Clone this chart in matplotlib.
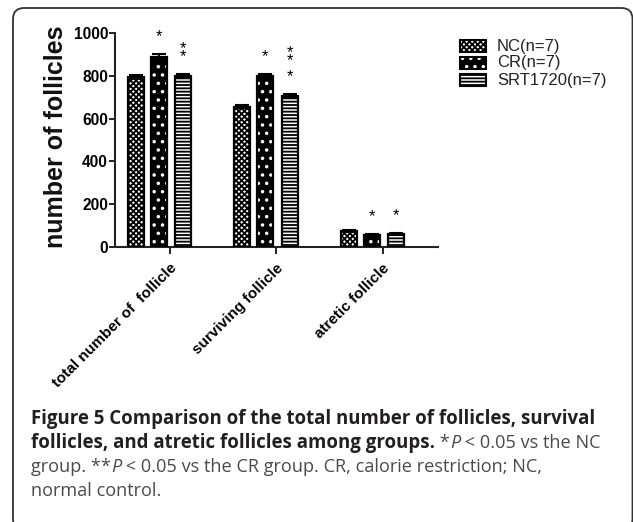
import numpy as np
import matplotlib
matplotlib.use("Agg")
import matplotlib.pyplot as plt
from matplotlib.patches import FancyBboxPatch, Rectangle

# data
categories = ["total number of  follicle", "surviving follicle", "atretic follicle"]
groups = ["NC(n=7)", "CR(n=7)", "SRT1720(n=7)"]
nc = [795, 655, 75]
cr = [890, 800, 55]
srt = [800, 705, 60]
nc_err = [8, 7, 5]
cr_err = [10, 10, 4]
srt_err = [8, 8, 4]
# significance marks (group index, series index, mark); "**" is printed stacked
stars = [(0, 1, "*"), (0, 2, "**"), (1, 1, "*"), (1, 2, "** *"),
         (2, 1, "*"), (2, 2, "*")]

W, H = 633, 522
plt.rcParams.update({"font.family": ["Liberation Sans", "DejaVu Sans"],
                     "hatch.linewidth": 1.3})
fig = plt.figure(figsize=(W / 100, H / 100), dpi=100)

def fx(px):
    return px / W

def fy(py):
    return 1 - py / H

# panel border (rounded, runs off the right/bottom edge), in pixels
box = FancyBboxPatch((13, H - 530), 619.5, 522, boxstyle="round,pad=0,rounding_size=11",
                     transform=None, fill=False, ec="#333333", lw=1.3)
fig.patches.append(box)

ax = fig.add_axes([fx(115), fy(247), fx(438 - 115), (247 - 33) / H])
x = np.arange(len(categories))
offs = [-0.216, 0.0, 0.228]
bw = 0.15
series = [nc, cr, srt]
errs = [nc_err, cr_err, srt_err]
styles = [dict(fc="white", hc="black", hatch="xxxxxx"),
          dict(fc="black", hc="white", hatch=".."),
          dict(fc="white", hc="black", hatch="-----")]

for vals, err, off, st in zip(series, errs, offs, styles):
    ax.bar(x + off, vals, bw, color=st["fc"], edgecolor=st["hc"], hatch=st["hatch"],
           linewidth=0, zorder=2)
    ax.bar(x + off, vals, bw, fill=False, edgecolor="black", linewidth=1.6, zorder=3)
    ax.errorbar(x + off, vals, yerr=err, fmt="none", ecolor="black", elinewidth=1.5,
                capsize=5, capthick=1.5, zorder=4)

# one text per bar; each star on its own line, a blank line between "**" and "*"
for gi, si, mark in stars:
    top = series[si][gi] + errs[si][gi]
    txt = "\n".join("" if c == " " else c for c in mark)
    ax.annotate(txt, (x[gi] + offs[si], top + 46), ha="center", va="bottom",
                fontsize=12, linespacing=0.42, annotation_clip=False)

ax.set_ylim(0, 1000)
ax.set_xlim(-0.413, 2.62)
ax.set_yticks([0, 200, 400, 600, 800, 1000])
ax.set_xticks(x + 0.1)
ax.set_xticklabels(categories, rotation=45, ha="right", va="top",
                   rotation_mode="anchor", fontweight="bold", fontsize=11)
for lab in ax.get_yticklabels():
    lab.set_fontweight("bold")
    lab.set_fontsize(11.2)
ax.tick_params(axis="both", length=4, width=1.4, pad=1, color="#222222")
ax.tick_params(axis="x", length=5, pad=5)
for sp in ["top", "right"]:
    ax.spines[sp].set_visible(False)
for sp in ["left", "bottom"]:
    ax.spines[sp].set_linewidth(1.5)
    ax.spines[sp].set_color("#222222")
ax.set_facecolor("none")

fig.text(fx(56), fy(136.5), "number of follicles", rotation=90, ha="center",
         va="center", fontsize=18, fontweight="bold", color="#111111")

# legend drawn by hand next to the axes
leg_y = [46, 63, 80]
for name, st, ly in zip(groups, styles, leg_y):
    for kw in (dict(fc=st["fc"], ec=st["hc"], hatch=st["hatch"], lw=0),
               dict(fill=False, ec="black", lw=1.5)):
        fig.patches.append(Rectangle((fx(460), fy(ly + 6)), fx(26), 12 / H,
                                     transform=fig.transFigure, **kw))
    fig.text(fx(497), fy(ly), name, ha="left", va="center", fontsize=12, color="#222222")

# caption, built from text pieces placed one after another
BOLD = dict(family="Open Sans", fontweight="bold", color="#231f20", fontsize=13.4)
REG = dict(family="Open Sans", color="#4a4a4a", fontsize=13.1)
ITA = dict(family="Open Sans", style="italic", color="#4a4a4a", fontsize=13.1)
cap_lines = [
    [("Figure 5 Comparison of the total number of follicles, survival", BOLD)],
    [("follicles, and atretic follicles among groups.", BOLD), (" *", REG), ("P", ITA),
     (" < 0.05 vs the NC", REG)],
    [("group. **", REG), ("P", ITA), (" < 0.05 vs the CR group. CR, calorie restriction; NC,", REG)],
    [("normal control.", REG)],
]
cap_y = [424, 448, 472, 496]
renderer = fig.canvas.get_renderer()
for line, yb in zip(cap_lines, cap_y):
    xpos = fx(31)
    for txt, kw in line:
        t = fig.text(xpos, fy(yb), txt, ha="left", va="baseline", **kw)
        xpos = t.get_window_extent(renderer).x1 / fig.bbox.width

fig.savefig("out.png", dpi=100)
